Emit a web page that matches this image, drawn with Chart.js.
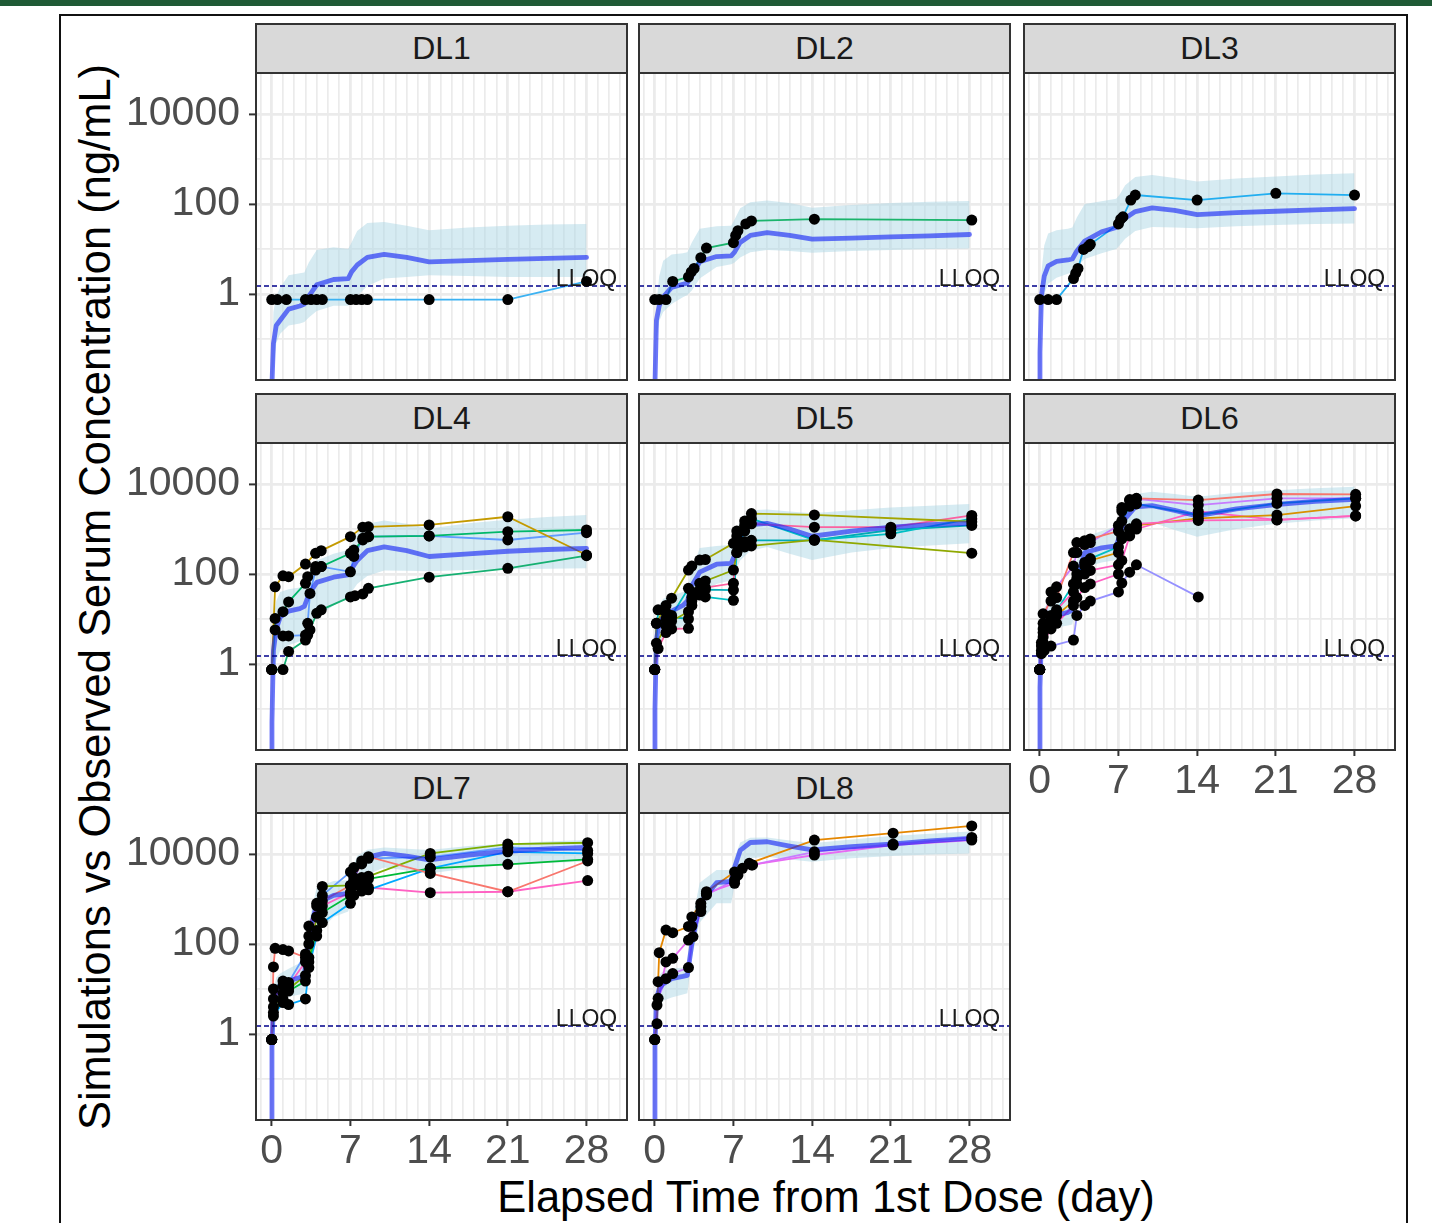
<!DOCTYPE html>
<html><head><meta charset="utf-8">
<script src="https://cdn.jsdelivr.net/npm/chart.js@4.4.1/dist/chart.umd.min.js"></script>
<style>
html,body{margin:0;padding:0;background:#fff;width:1432px;height:1223px;overflow:hidden;font-family:"Liberation Sans",Arial,sans-serif}
#topbar{position:absolute;left:0;top:0;width:1432px;height:6px;background:#1f5a35}
#frame{position:absolute;left:59px;top:14px;width:1349px;height:1300px;border:2px solid #111;box-sizing:border-box}
.strip{position:absolute;background:#d9d9d9;border:2px solid #333;box-sizing:border-box;text-align:center;color:#1a1a1a;font-size:32px}
.pborder{position:absolute;border:2px solid #333;box-sizing:border-box;pointer-events:none}
canvas{position:absolute}
#ytitle{position:absolute;width:1200px;height:44px;line-height:44px;font-size:43.5px;text-align:center;color:#000;white-space:nowrap;transform:rotate(-90deg)}
#xtitle{position:absolute;width:1000px;height:44px;line-height:44px;font-size:43.5px;text-align:center;color:#000;white-space:nowrap}
</style>
</head><body>
<div id="topbar"></div>
<div id="frame"></div>
<div id="ytitle"></div>
<div id="xtitle"></div>
<script>
// ---------- axis definitions ----------
const X_MIN = -1.4, X_MAX = 31.6;
const Y_MIN = 0.01227, Y_MAX = 81470;
const X_TICKS = [-1,0,1,2,3,4,5,6,7,8,9,10,11,12,13,14,15,16,17,18,19,20,21,22,23,24,25,26,27,28,29,30,31];
const X_LABELS = [0,7,14,21,28];
const Y_TICKS = [0.1,1,10,100,1000,10000];
const Y_LABELS = [1,100,10000];
const LLOQ = 1.5;
const LLOQ_TEXT = 'LLOQ';
const LLOQ_TEXT_X = 28;
const BLQ = 0.75;
const Y_TITLE = 'Simulations vs Observed Serum Concentration (ng/mL)';
const X_TITLE = 'Elapsed Time from 1st Dose (day)';
const PANEL_NAMES = ['DL1','DL2','DL3','DL4','DL5','DL6','DL7','DL8'];

// ---------- simulation (median + interval) ----------
const SIM_T = [0,0.02,0.15,0.4,0.75,1.5,2.5,2.9,3.3,4,5.5,6.8,7.1,7.6,8.5,10,12,14,17.5,21,24.5,28];

const DL1_MED = [0.0001,0.01,0.08,0.2,0.26,0.46,0.54,0.6,0.9,1.6,2.1,2.2,3.1,4.4,6.5,7.6,6.5,5.2,5.5,5.9,6.2,6.5];
const DL1_LO  = [0.00001,0.003,0.02,0.08,0.13,0.2,0.22,0.24,0.3,0.42,0.55,0.55,0.7,0.9,1.5,2.2,2.4,2.6,2.5,2.4,2.4,2.4];
const DL1_HI  = [0.0001,0.03,0.4,0.9,1.4,2.6,2.9,3.0,5.0,9.5,11,10,14,25,38,40,33,26,30,33,35,36];

const DL2_MED = [0.0001,0.01,0.26,0.55,0.85,1.4,1.65,1.75,2.5,5.2,6.8,7.0,8.5,14,20,23,20,16.5,17.5,18.5,19.5,21];
const DL2_LO  = [0.00001,0.003,0.1,0.25,0.4,0.6,0.85,0.95,1.2,2.2,4,4.6,5,6.5,8.5,9.5,9,8.3,9,9.5,10,10.3];
const DL2_HI  = [0.0001,0.02,0.6,2.5,5.5,7.5,8,8.5,14,28,32,33,45,80,110,120,105,82,95,105,112,117];

const DL3_MED = [0.0001,0.05,0.9,2.5,4.2,5.3,5.7,6,9,15,24,30,36,48,68,82,72,58,64,69,74,79];
const DL3_LO  = [0.00001,0.01,0.3,1.0,1.7,2.3,2.8,3,4,6,8,10,12,17,25,31,30,29,32,34,36,37];
const DL3_HI  = [0.0001,0.1,3,12,22,26,28,30,50,100,115,130,160,260,400,440,380,315,370,410,450,480];

const DL4_MED = [0.0001,0.05,2,6,11,15,17,19,35,65,85,95,130,200,330,400,330,245,280,320,350,370];
const DL4_LO  = [0.00001,0.01,0.4,1.2,2,2.6,3.2,3.4,6,11,20,30,40,60,90,120,118,115,122,127,131,134];
const DL4_HI  = [0.0001,0.2,10,25,40,46,50,52,100,200,280,340,450,800,1300,1550,1300,1030,1350,1600,1850,2040];

const DL5_MED = [0.0001,0.1,3.5,8,11,15,20,25,55,110,165,173,260,700,1250,1340,1000,690,900,1100,1250,1340];
const DL5_LO  = [0.00001,0.02,0.8,2.5,3.8,5,7,8,16,35,60,73,100,200,330,400,280,205,300,380,430,480];
const DL5_HI  = [0.0001,0.5,10,20,28,33,40,44,120,380,420,440,700,1500,2600,2700,2450,2230,2600,3000,3300,3600];

const DL6_MED = [0.0001,0.3,4,8,10,12,14,16,80,300,380,420,700,1700,3100,3300,2600,1950,2800,3500,4100,4560];
const DL6_LO  = [0.00001,0.05,1.5,3.5,5,6.5,7.2,7.5,30,140,180,204,350,800,1300,1400,950,675,1000,1300,1550,1730];
const DL6_HI  = [0.0001,1,10,18,22,26,28,30,200,650,900,1130,2000,4000,6000,6700,6000,5200,6400,7300,8000,8700];

const DL7_MED = [0.0001,0.5,5,9,11,15,18,20,150,800,1200,1340,2500,5000,8500,10300,9000,7400,9500,11500,13000,14000];
const DL7_LO  = [0.00001,0.1,2,4,5.5,6.7,7.5,8,40,170,400,525,1000,2000,3500,5000,4300,3700,4800,5700,6300,6800];
const DL7_HI  = [0.0001,1.5,10,18,22,28,38,44,300,1800,2500,2600,4500,9000,12500,14000,13000,12300,15000,17000,19000,20400];

const DL8_MED = [0.0001,0.5,6,10,13,17,19,20,100,800,2300,2450,5000,12000,18000,18700,15000,12300,14500,16500,19500,22300];
const DL8_LO  = [0.00001,0.1,2,4,5.5,6.5,7.5,8,50,300,800,800,2000,5000,8000,8700,7500,6700,8000,9000,9700,10300];
const DL8_HI  = [0.0001,1.5,12,20,25,28,30,31,300,2300,4400,4400,8000,18000,23000,23400,20000,17300,21000,25000,28000,31600];

// ---------- observed subjects [day, ng/mL] ----------
const DL1_S1 = [[0,0.75],[0.5,0.75],[1.3,0.75],[3,0.75],[3.5,0.75],[4,0.75],[4.5,0.75],[7,0.75],[7.5,0.75],[8,0.75],[8.5,0.75],[14,0.75],[21,0.75],[28,1.9]];

const DL2_S1 = [[0,0.75],[0.4,0.75],[1,0.75],[1.6,1.9],[3,2.4],[3.25,3.1],[3.5,3.7],[4.1,6.4],[4.6,10.5],[7,13.8],[7.2,20],[7.4,25.6],[8.1,36],[8.6,42],[14.2,46],[28.2,44]];

const DL3_S1 = [[0,0.75],[0.75,0.75],[1.5,0.75],[3,2.2],[3.2,2.9],[3.4,3.7],[3.9,9.8],[4.3,11.3],[4.5,12.7],[7,36],[7.2,46],[7.4,52],[8.1,122],[8.5,158],[14,122],[21,173],[28,158]];

const DL4_S1 = [[0,0.75],[0.3,52],[1,91],[1.5,87],[3,166],[3.9,288],[4.4,330],[7,675],[8.1,1100],[8.6,1120],[14,1230],[21,1870],[28,264]];
const DL4_S2 = [[0,0.75],[0.3,10.3],[1,14.5],[1.5,24],[3,62],[3.2,87],[3.9,146],[4.4,146],[7,288],[7.3,340],[8.1,570],[8.6,675],[14,700],[21,870],[28,950]];
const DL4_S3 = [[0,0.75],[0.3,5.7],[1,4.2],[1.5,4.2],[3,4.4],[3.2,8],[3.4,37],[3.9,122],[4.4,146],[7,112],[7.3,245],[8.1,620],[8.6,675],[14,700],[21,570],[28,830]];
const DL4_S4 = [[0,0.75],[1,0.75],[1.5,1.9],[3,3.4],[3.2,4.4],[3.4,5.7],[4,13.4],[4.4,16],[7,31],[7.4,33],[8.1,36],[8.6,48],[14,85],[21,134],[28,256]];

const DL5_S1 = [[0,0.75],[0.15,8],[1,20],[1.5,29],[3,122],[3.3,150],[4,204],[4.5,210],[7,480],[7.3,900],[8,1500],[8.6,2200],[14.2,2050],[28.2,1450]];
const DL5_S2 = [[0,0.75],[0.15,2.9],[1,7],[1.5,9],[3,14.5],[3.3,30],[4,62],[4.5,70],[7,122],[7.3,300],[8,400],[8.6,420],[14.2,575],[28.2,290]];
const DL5_S3 = [[0,0.75],[0.3,2.2],[1,5],[1.5,6],[3,6.2],[3.3,20],[4,44],[4.5,50],[7,62],[7.3,700],[8,1200],[8.6,1300],[14.2,1100],[21,1100],[28.2,2000]];
const DL5_S4 = [[0,0.75],[0.3,16],[1,14],[1.5,12],[3,48],[3.3,40],[4,34],[4.5,31],[7,26],[7.3,300],[8,900],[8.6,1700],[14.2,570],[21,780],[28.2,1700]];
const DL5_S5 = [[0,0.75],[0.15,8],[1,10],[1.5,11],[3,10],[3.3,25],[4,40],[4.5,45],[7,44],[7.3,450],[8,520],[8.6,560],[14.2,560],[21,950],[28.2,1200]];

const DL6_S1 = [[0,0.75],[0.15,3],[0.3,13],[1,25],[1.5,30],[3,300],[3.3,500],[4,550],[4.5,600],[7,900],[7.3,2500],[8,4300],[8.6,4800],[14.1,4400],[21.1,6000],[28.1,5900]];
const DL6_S2 = [[0,0.75],[0.15,1.7],[0.4,2],[1,2.5],[3,3.4],[3.3,12],[4,20],[4.5,25],[7,40],[7.3,63],[8,110],[8.6,160],[14.1,31]];
const DL6_S3 = [[0,0.75],[0.15,2.5],[0.3,6],[1,12],[1.5,16],[3,40],[3.3,80],[4,100],[4.5,120],[7,160],[7.3,700],[8,1000],[8.6,1300],[14.1,1550],[21.1,1600],[28.1,1950]];
const DL6_S4 = [[0,0.75],[0.15,2],[0.3,5],[1,10],[1.5,15],[3,60],[3.3,100],[4,180],[4.5,220],[7,400],[7.3,1500],[8,3200],[8.6,3600],[14.1,2050],[21.1,3700],[28.1,4800]];
const DL6_S5 = [[0,0.75],[0.3,4],[1,8],[1.5,12],[3,25],[3.3,60],[4,150],[4.5,200],[7,300],[7.3,600],[8,1000],[8.6,1200],[14.1,1730],[21.1,2040],[28.1,3240]];
const DL6_S6 = [[0,0.75],[0.3,8],[1,40],[1.5,52],[3,150],[3.3,300],[4,450],[4.5,500],[7,1200],[7.3,3000],[8,4500],[8.6,4700],[14.1,3400],[21.1,4800],[28.1,4800]];
const DL6_S7 = [[0,0.75],[0.3,3],[1,6],[1.5,8],[3,20],[3.3,30],[4,50],[4.5,60],[7,100],[7.3,200],[8,700],[8.6,1000],[14.1,2450],[21.1,1590],[28.1,1950]];

const DL7_S1 = [[0,0.75],[0.15,31],[0.3,80],[1,75],[1.5,70],[3,50],[3.3,250],[4,700],[4.5,900],[7,2000],[7.3,3000],[8,6000],[8.6,8700],[14.1,3700],[21,1450],[28.1,7000]];
const DL7_S2 = [[0,0.75],[0.15,4],[1,8],[1.5,10],[3,20],[3.3,50],[4,400],[4.5,1900],[7,2000],[7.3,2500],[8,3000],[8.6,3200],[14.1,10300],[21,16600],[28.1,17800]];
const DL7_S3 = [[0,0.75],[0.15,3],[1,6],[1.5,9],[3,15],[3.3,40],[4,200],[4.5,500],[7,1200],[7.3,2000],[8,2500],[8.6,2800],[14.1,4800],[21,5900],[28.1,7600]];
const DL7_S4 = [[0,0.75],[0.15,2.5],[1,5],[1.5,4.5],[3,6],[3.3,30],[4,150],[4.5,300],[7,800],[7.3,1200],[8,1500],[8.6,1600],[14.1,4800],[21,11200],[28.1,10300]];
const DL7_S5 = [[0,0.75],[0.15,6],[1,12],[1.5,12],[3,40],[3.3,100],[4,400],[4.5,700],[7,1400],[7.3,2000],[8,2000],[8.6,1800],[14.1,1380],[21,1450],[28.1,2560]];
const DL7_S6 = [[0,0.75],[0.15,10],[1,15],[1.5,14],[3,60],[3.3,150],[4,800],[4.5,1200],[7,4000],[7.3,5000],[8,7000],[8.6,8000],[14.1,8500],[21,14000],[28.1,12000]];

const DL8_S1 = [[0,0.75],[0.2,1.7],[0.3,14.5],[0.4,64],[1,204],[1.6,178],[3,245],[3.3,400],[4.1,800],[4.6,1450],[7.1,4000],[8.4,6200],[14.2,20400],[21.2,29000],[28.2,42000]];
const DL8_S2 = [[0,0.75],[0.2,4.4],[1,40],[1.6,48],[3,122],[3.3,250],[4.1,676],[4.6,1340],[7.1,2230],[7.4,3400],[8.6,5700],[14.2,9500],[21.2,15800],[28.2,20400]];
const DL8_S3 = [[0,0.75],[0.3,6.2],[1,17],[1.6,22],[3,30],[3.4,146],[4.1,525],[4.6,1230],[7.1,2630],[7.8,4800],[8.7,5700],[14.2,11200],[21.2,16600],[28.2,23400]];

// ---------- styles (kept separate from data) ----------
const SUBJ_COLORS = [
  ['#3cb2f2'],
  ['#1bb46c'],
  ['#22aef0'],
  ['#c49a00','#00b86a','#619cff','#16b072'],
  ['#a3a500','#8fa800','#fb61a0','#00bfc4','#00a9b5'],
  ['#f8766d','#9590ff','#ff62bc','#00bfc4','#d89000','#c77cff','#ff61c3'],
  ['#f8766d','#7cae00','#00ba38','#00a9ff','#ff61c3','#619cff'],
  ['#e58700','#e76bf3','#c77cff']
];
const MED_COLOR = 'rgba(20,35,245,0.62)';
const RIBBON_COLOR = 'rgba(173,216,230,0.5)';
const LLOQ_COLOR = '#00008b';
const FONT = '"Liberation Sans", Arial, sans-serif';

// layout geometry
const COL_X = [256, 639, 1024];
const ROW_Y = [73, 443, 813];
const PW = 371, PH = 307;

const PANELS = [
  {med:DL1_MED, lo:DL1_LO, hi:DL1_HI, subj:[DL1_S1]},
  {med:DL2_MED, lo:DL2_LO, hi:DL2_HI, subj:[DL2_S1]},
  {med:DL3_MED, lo:DL3_LO, hi:DL3_HI, subj:[DL3_S1]},
  {med:DL4_MED, lo:DL4_LO, hi:DL4_HI, subj:[DL4_S1,DL4_S2,DL4_S3,DL4_S4]},
  {med:DL5_MED, lo:DL5_LO, hi:DL5_HI, subj:[DL5_S1,DL5_S2,DL5_S3,DL5_S4,DL5_S5]},
  {med:DL6_MED, lo:DL6_LO, hi:DL6_HI, subj:[DL6_S1,DL6_S2,DL6_S3,DL6_S4,DL6_S5,DL6_S6,DL6_S7]},
  {med:DL7_MED, lo:DL7_LO, hi:DL7_HI, subj:[DL7_S1,DL7_S2,DL7_S3,DL7_S4,DL7_S5,DL7_S6]},
  {med:DL8_MED, lo:DL8_LO, hi:DL8_HI, subj:[DL8_S1,DL8_S2,DL8_S3]}
];

const lloqLabel = {
  id: 'lloqLabel',
  afterDatasetDraw(chart, args) {
    const ds = chart.data.datasets[args.index];
    if (!ds.isLloq) return;
    const {ctx, scales: {x, y}} = chart;
    ctx.save();
    ctx.font = '23px ' + FONT;
    ctx.fillStyle = '#1a1a1a';
    ctx.textAlign = 'center';
    ctx.textBaseline = 'alphabetic';
    ctx.fillText(LLOQ_TEXT, x.getPixelForValue(LLOQ_TEXT_X), y.getPixelForValue(LLOQ) - 0.5);
    ctx.restore();
  }
};

function zeroPad(s) { s.paddingLeft = 0; s.paddingRight = 0; s.paddingTop = 0; s.paddingBottom = 0; }

function makePanel(p, i) {
  const row = Math.floor(i / 3), col = i % 3;
  const left = COL_X[col], top = ROW_Y[row];
  const axW = col === 0 ? 140 : 0;
  const axH = i >= 5 ? 60 : 0;

  const strip = document.createElement('div');
  strip.className = 'strip';
  strip.style.cssText = `left:${left-1}px;top:${top-50}px;width:${PW+2}px;height:51px;line-height:47px`;
  strip.textContent = PANEL_NAMES[i];
  document.body.appendChild(strip);

  const cv = document.createElement('canvas');
  cv.width = PW + axW; cv.height = PH + axH;
  cv.style.left = (left - axW) + 'px'; cv.style.top = top + 'px';
  cv.style.width = (PW + axW) + 'px'; cv.style.height = (PH + axH) + 'px';
  document.body.appendChild(cv);

  const border = document.createElement('div');
  border.className = 'pborder';
  border.style.cssText = `left:${left-1}px;top:${top-1}px;width:${PW+2}px;height:${PH+2}px`;
  document.body.appendChild(border);

  const sim = arr => SIM_T.map((t, k) => ({x: t, y: arr[k]}));
  const colors = SUBJ_COLORS[i];
  const datasets = [
    {data: sim(p.lo), borderWidth: 0, pointRadius: 0, fill: false, order: 10},
    {data: sim(p.hi), borderWidth: 0, pointRadius: 0, fill: '-1', backgroundColor: RIBBON_COLOR, order: 9}
  ];
  p.subj.forEach((s, k) => datasets.push({
    data: s.map(([x, y]) => ({x, y})), borderColor: colors[k], borderWidth: 1.8, pointRadius: 0, fill: false, order: 8
  }));
  datasets.push({data: sim(p.med), borderColor: MED_COLOR, borderWidth: 4.8, pointRadius: 0, fill: false,
    borderJoinStyle: 'round', borderCapStyle: 'round', order: 7});
  datasets.push({data: [{x: X_MIN, y: LLOQ}, {x: X_MAX, y: LLOQ}], borderColor: LLOQ_COLOR, borderWidth: 1.4,
    borderDash: [5, 3], pointRadius: 0, fill: false, order: 6, isLloq: true});
  datasets.push({data: p.subj.flat().map(([x, y]) => ({x, y})), showLine: false, pointRadius: 5.5,
    pointBackgroundColor: '#000', pointBorderWidth: 0, order: 5});

  new Chart(cv, {
    type: 'line',
    data: {datasets},
    plugins: [lloqLabel],
    options: {
      responsive: false, animation: false, events: [],
      layout: {padding: 0, autoPadding: false},
      plugins: {legend: {display: false}, tooltip: {enabled: false}},
      scales: {
        x: {
          type: 'linear', min: X_MIN, max: X_MAX,
          afterBuildTicks: s => { s.ticks = X_TICKS.map(v => ({value: v})); },
          afterFit: s => { s.height = axH; zeroPad(s); },
          ticks: {display: axH > 0, autoSkip: false, maxRotation: 0, minRotation: 0, padding: 1, color: '#4d4d4d',
            font: {family: FONT, size: 41}, callback: v => X_LABELS.includes(v) ? String(v) : ''},
          grid: {
            color: '#ebebeb',
            lineWidth: c => (c.tick && X_LABELS.includes(c.tick.value)) ? 2.8 : 1.7,
            drawTicks: axH > 0, tickLength: 6, tickWidth: 2,
            tickColor: c => (c.tick && X_LABELS.includes(c.tick.value)) ? '#333333' : 'rgba(0,0,0,0)'
          },
          border: {display: false}
        },
        y: {
          type: 'logarithmic', min: Y_MIN, max: Y_MAX,
          afterBuildTicks: s => { s.ticks = Y_TICKS.map(v => ({value: v})); },
          afterFit: s => { s.width = axW; zeroPad(s); },
          ticks: {display: axW > 0, autoSkip: false, padding: 9, color: '#4d4d4d',
            font: {family: FONT, size: 41}, callback: v => Y_LABELS.includes(v) ? String(v) : ''},
          grid: {
            color: '#ebebeb',
            lineWidth: c => (c.tick && Y_LABELS.includes(c.tick.value)) ? 2.8 : 1.8,
            drawTicks: axW > 0, tickLength: 7, tickWidth: 2,
            tickColor: c => (c.tick && Y_LABELS.includes(c.tick.value)) ? '#333333' : 'rgba(0,0,0,0)'
          },
          border: {display: false}
        }
      }
    }
  });
}

PANELS.forEach(makePanel);

const yt = document.getElementById('ytitle');
yt.textContent = Y_TITLE;
yt.style.left = (95 - 600) + 'px';
yt.style.top = (597 - 22) + 'px';
const xt = document.getElementById('xtitle');
xt.textContent = X_TITLE;
xt.style.left = (826 - 500) + 'px';
xt.style.top = '1175px';
</script>
</body></html>
